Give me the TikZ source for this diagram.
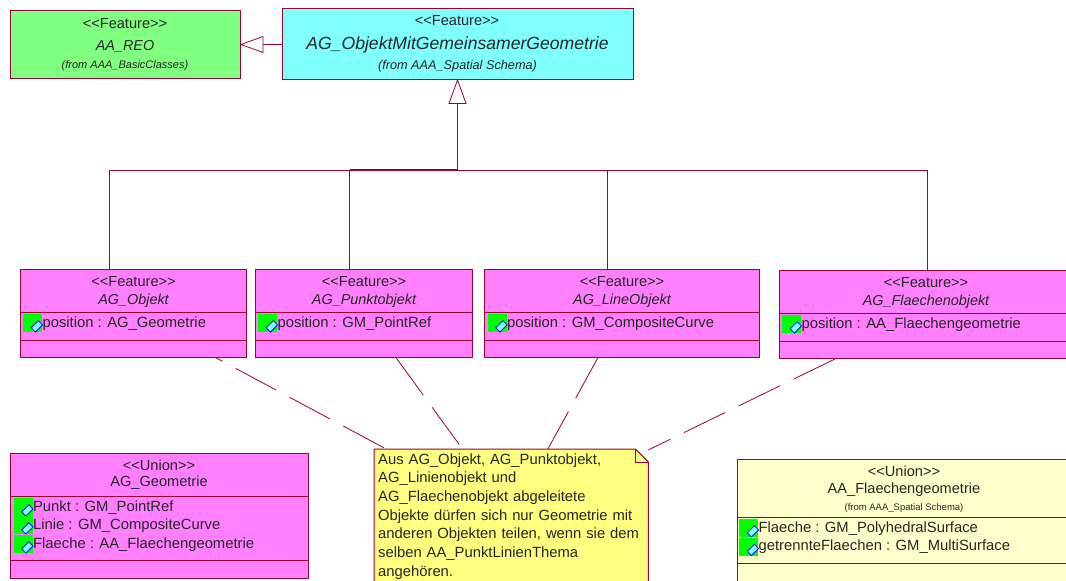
\documentclass[tikz,border=0pt]{standalone}
\usepackage{fontspec}
\usepackage{tikz}
\usepackage{xcolor}
\setmainfont{Liberation Sans}
\usetikzlibrary{calc}
\definecolor{umlred}{HTML}{990033}
\definecolor{umlmagenta}{HTML}{FF80FF}
\definecolor{umlgreen}{HTML}{80FF80}
\definecolor{umlcyan}{HTML}{80FFFF}
\definecolor{umlyellow}{HTML}{FFFF80}
\definecolor{umlpale}{HTML}{FFFFCC}
\tikzset{
    class-box/.style = {draw=umlred, line width=1pt, rectangle, inner sep=0pt, anchor=north west},
    divider/.style = {draw=umlred, line width=0.8pt},
    title/.style = {font=\fontsize{14.6}{16}\selectfont, text=black!85, inner sep=0pt},
    title-italic/.style = {font=\fontsize{14.4}{16}\selectfont\itshape, text=black!85, inner sep=0pt},
    from-text/.style = {font=\fontsize{11}{13}\selectfont\itshape, text=black!85, inner sep=0pt},
    attr/.style = {font=\fontsize{14.8}{16}\selectfont, text=black!85, inner sep=0pt, anchor=west},
    attr-icon/.style = {fill=green, inner sep=0pt, minimum width=19pt, minimum height=18pt},
    attr-gem/.style = {draw=blue, line width=0.8pt, fill=umlcyan, rectangle, rotate=45, inner sep=0pt, minimum width=10pt, minimum height=6pt},
    inherit/.style = {draw=umlred, line width=0.8pt},
    hollow-tip/.style = {draw=umlred, line width=0.8pt, fill=white},
    note-link/.style = {draw=umlred, line width=0.8pt, dash pattern=on 46pt off 15pt},
}
\newcommand{\attrrow}[4]{% name, x, y, text
    \node[attr-icon, anchor=north west] (#1-icon) at (#2,#3) {};
    \node[attr-gem] (#1-gem) at ($(#1-icon.south east)+(-5.5,-6)$) {};
    \node[attr] (#1-text) at (#1-icon.east) {#4};
}
\begin{document}
\begin{tikzpicture}[x=1pt,y=-1pt]
\useasboundingbox (0,0) rectangle (1066,581);

% top row
\node[class-box, fill=umlgreen, minimum width=230pt, minimum height=68pt] (reo) at (10,10) {};
\node[title] (reo-stereo) at (125,24) {<{}<Feature>{}>};
\node[title-italic] (reo-name) at (125,46.5) {AA\_REO};
\node[from-text] (reo-from) at (125,65.5) {(from AAA\_BasicClasses)};

\node[class-box, fill=umlcyan, minimum width=351pt, minimum height=71pt] (gemeinsam) at (282,8) {};
\node[title] (gemeinsam-stereo) at (457,21) {<{}<Feature>{}>};
\node[font=\fontsize{17.6}{20}\selectfont\itshape, text=black!85, inner sep=0pt] (gemeinsam-name) at (457.5,45) {AG\_ObjektMitGemeinsamerGeometrie};
\node[from-text, font=\fontsize{12.7}{14}\selectfont\itshape] (gemeinsam-from) at (457.5,66) {(from AAA\_Spatial Schema)};

% feature row
\node[class-box, fill=umlmagenta, minimum width=226pt, minimum height=88pt] (objekt) at (20,269) {};
\node[class-box, fill=umlmagenta, minimum width=217pt, minimum height=88pt] (punkt) at (255,269) {};
\node[class-box, fill=umlmagenta, minimum width=275pt, minimum height=88pt] (linie) at (484,269) {};
\node[class-box, fill=umlmagenta, minimum width=294pt, minimum height=88pt] (flaeche) at (778.5,270) {};

\foreach \boxname/\stereo/\name in {objekt/Feature/AG\_Objekt, punkt/Feature/AG\_Punktobjekt, linie/Feature/AG\_LineObjekt, flaeche/Feature/AG\_Flaechenobjekt}{
    \node[title] (\boxname-stereo) at ($(\boxname.north)+(0,13)$) {<{}<\stereo>{}>};
    \node[title-italic] (\boxname-name) at ($(\boxname.north)+(0,31.5)$) {\name};
    \draw[divider] ($(\boxname.north west)+(0,43)$) -- ($(\boxname.north east)+(0,43)$);
    \draw[divider] ($(\boxname.north west)+(0,71)$) -- ($(\boxname.north east)+(0,71)$);
}
\attrrow{objekt-pos}{23}{314}{position : AG\_Geometrie}
\attrrow{punkt-pos}{258}{314}{position : GM\_PointRef}
\attrrow{linie-pos}{487.5}{314}{position : GM\_CompositeCurve}
\attrrow{flaeche-pos}{782}{315}{position : AA\_Flaechengeometrie}

% unions
\node[class-box, fill=umlmagenta, minimum width=298pt, minimum height=125pt] (geometrie) at (10,452.5) {};
\node[title] (geometrie-stereo) at (159,465.5) {<{}<Union>{}>};
\node[title] (geometrie-name) at (159,483) {AG\_Geometrie};
\draw[divider] ($(geometrie.north west)+(0,43.5)$) -- ($(geometrie.north east)+(0,43.5)$);
\draw[divider] ($(geometrie.north west)+(0,108)$) -- ($(geometrie.north east)+(0,108)$);
\attrrow{geo-punkt}{13.5}{498}{Punkt : GM\_PointRef}
\attrrow{geo-linie}{13.5}{516}{Linie : GM\_CompositeCurve}
\attrrow{geo-flaeche}{13.5}{535}{Flaeche : AA\_Flaechengeometrie}

\node[class-box, fill=umlpale, minimum width=345pt, minimum height=121.5pt] (flaechengeo) at (736.5,459) {};
\node[title] (flaechengeo-stereo) at (904,471.5) {<{}<Union>{}>};
\node[title] (flaechengeo-name) at (904,489.5) {AA\_Flaechengeometrie};
\node[from-text, font=\fontsize{9.5}{11}\selectfont] (flaechengeo-from) at (904,508) {(from AAA\_Spatial Schema)};
\draw[divider] ($(flaechengeo.north west)+(0,58.5)$) -- ($(flaechengeo.north east)+(0,58.5)$);
\draw[divider] ($(flaechengeo.north west)+(0,104.5)$) -- ($(flaechengeo.north east)+(0,104.5)$);
\attrrow{fg-flaeche}{739}{519}{Flaeche : GM\_PolyhedralSurface}
\attrrow{fg-getrennt}{739}{537.5}{getrennteFlaechen : GM\_MultiSurface}

% note
\node[rectangle, inner sep=0pt, anchor=north west, minimum width=274pt, minimum height=134pt] (note) at (374,449) {};
\fill[umlyellow] (note.north west) -- ($(note.north east)+(-13,0)$) -- ($(note.north east)+(0,13)$) -- (note.south east) -- (note.south west) -- cycle;
\draw[umlred, line width=1pt] (note.south west) -- (note.north west) -- ($(note.north east)+(-13,0)$) -- ($(note.north east)+(0,13)$) -- (note.south east);
\draw[umlred, line width=0.8pt] ($(note.north east)+(-13,0)$) -- ($(note.north east)+(-13,13)$) -- ($(note.north east)+(0,13)$);
\node[anchor=north west, inner sep=0pt, text width=268pt, align=left, font=\fontsize{14.8}{18.7}\selectfont, text=black!85] (note-text) at (378,453.2) {Aus AG\_Objekt, AG\_Punktobjekt,\\AG\_Linienobjekt und\\AG\_Flaechenobjekt abgeleitete\\Objekte dürfen sich nur Geometrie mit\\anderen Objekten teilen, wenn sie dem\\selben AA\_PunktLinienThema\\angehören.};

% inheritance
\coordinate (bus) at (457.5,170);
\coordinate (up-base) at (457.5,102.5);
\coordinate (left-base) at (263,44.5);
\draw[hollow-tip] (gemeinsam.south -| up-base) -- ++(-8.5,23.5) -- ++(17,0) -- cycle;
\draw[inherit, line width=1.3pt] (up-base) -- (bus);
\draw[inherit] (objekt.north -| 109.5,0) -- (109.5,170) -- (927,170) -- (flaeche.north -| 927,0);
\draw[inherit] (punkt.north -| 349.5,0) -- (349.5,170);
\draw[inherit] (linie.north -| 607.5,0) -- (607.5,170);
\draw[inherit, line width=1.2pt] (349.5,170) -- (bus);
\draw[hollow-tip] (reo.east |- left-base) -- (left-base |- 0,36.5) -- (left-base |- 0,52.5) -- cycle;
\draw[inherit] (left-base) -- (gemeinsam.west |- left-base);

% note links
\draw[note-link, dash phase=39pt] (objekt) -- (note);
\draw[note-link] (punkt) -- (note);
\draw[note-link] (linie) -- (note);
\draw[note-link] (flaeche) -- (note);
\end{tikzpicture}
\end{document}
